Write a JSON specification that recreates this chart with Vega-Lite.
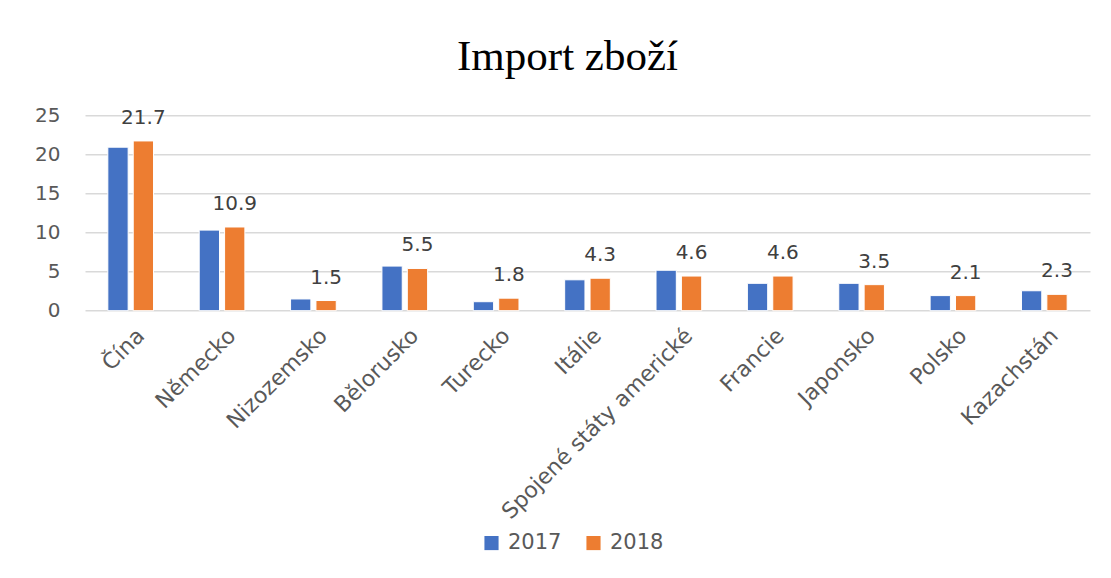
{
  "$schema": "https://vega.github.io/schema/vega-lite/v6.json",
  "width": 1005,
  "height": 203.4,
  "autosize": {"type": "none"},
  "padding": {"left": 85, "top": 107.3, "right": 21, "bottom": 267.3},
  "background": "white",
  "title": {"text": "Import zboží", "font": "Liberation Serif", "fontSize": 43, "fontWeight": "normal", "color": "#000000", "anchor": "middle", "dx": -20, "baseline": "alphabetic", "offset": -8},
  "data": {"values": [
    {"country": "Čína", "year": "2017", "value": 20.9, "label": null},
    {"country": "Čína", "year": "2018", "value": 21.7, "label": 21.7},
    {"country": "Německo", "year": "2017", "value": 10.3, "label": null},
    {"country": "Německo", "year": "2018", "value": 10.7, "label": 10.9},
    {"country": "Nizozemsko", "year": "2017", "value": 1.5, "label": null},
    {"country": "Nizozemsko", "year": "2018", "value": 1.3, "label": 1.5},
    {"country": "Bělorusko", "year": "2017", "value": 5.7, "label": null},
    {"country": "Bělorusko", "year": "2018", "value": 5.4, "label": 5.5},
    {"country": "Turecko", "year": "2017", "value": 1.15, "label": null},
    {"country": "Turecko", "year": "2018", "value": 1.6, "label": 1.8},
    {"country": "Itálie", "year": "2017", "value": 3.95, "label": null},
    {"country": "Itálie", "year": "2018", "value": 4.15, "label": 4.3},
    {"country": "Spojené státy americké", "year": "2017", "value": 5.17, "label": null},
    {"country": "Spojené státy americké", "year": "2018", "value": 4.43, "label": 4.6},
    {"country": "Francie", "year": "2017", "value": 3.5, "label": null},
    {"country": "Francie", "year": "2018", "value": 4.43, "label": 4.6},
    {"country": "Japonsko", "year": "2017", "value": 3.5, "label": null},
    {"country": "Japonsko", "year": "2018", "value": 3.33, "label": 3.5},
    {"country": "Polsko", "year": "2017", "value": 1.93, "label": null},
    {"country": "Polsko", "year": "2018", "value": 1.93, "label": 2.1},
    {"country": "Kazachstán", "year": "2017", "value": 2.55, "label": null},
    {"country": "Kazachstán", "year": "2018", "value": 2.09, "label": 2.3}
  ]},
  "encoding": {
    "x": {"field": "country", "type": "nominal", "sort": null,
      "scale": {"paddingInner": 0.5, "paddingOuter": 0.25},
      "axis": {"title": null, "ticks": false, "domain": false, "labelAngle": -45, "labelFont": "DejaVu Sans", "labelFontSize": 22, "labelColor": "#595959", "labelPadding": 14, "labelOffset": 3, "labelLimit": 500}},
    "xOffset": {"field": "year", "type": "nominal", "scale": {"paddingInner": 0.2, "paddingOuter": 0}}
  },
  "layer": [
    {
      "mark": {"type": "bar", "stroke": "white", "strokeWidth": 1},
      "encoding": {
        "y": {"field": "value", "type": "quantitative", "scale": {"domain": [0, 25]},
          "axis": {"title": null, "values": [0, 5, 10, 15, 20, 25], "ticks": false, "domain": false, "labelPadding": 25, "labelFont": "DejaVu Sans", "labelFontSize": 20, "labelColor": "#595959", "gridColor": "#d9d9d9", "gridWidth": 1.5}},
        "color": {"field": "year", "type": "nominal",
          "scale": {"domain": ["2017", "2018"], "range": ["#4472C4", "#ED7D31"]},
          "legend": {"title": null, "orient": "none", "legendX": 396, "legendY": 425, "direction": "horizontal", "symbolType": "square", "symbolSize": 200, "symbolStrokeWidth": 0, "labelFont": "DejaVu Sans", "labelFontSize": 21, "labelColor": "#595959", "columnPadding": 21, "labelOffset": 6}}
      }
    },
    {
      "transform": [{"filter": "datum.label != null"}],
      "mark": {"type": "text", "font": "DejaVu Sans", "fontSize": 20, "color": "#404040", "baseline": "alphabetic", "dy": -17},
      "encoding": {
        "y": {"field": "value", "type": "quantitative"},
        "text": {"field": "label", "type": "quantitative", "format": ".1f"}
      }
    }
  ],
  "config": {"view": {"stroke": null}}
}
